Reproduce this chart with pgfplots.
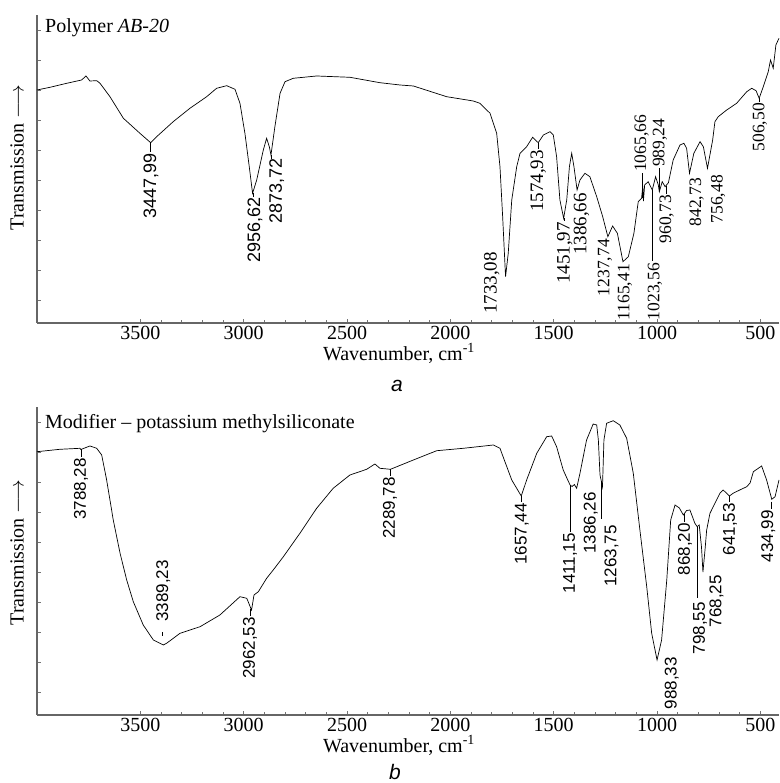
\documentclass[border=0pt]{standalone}
\usepackage{fontspec}
\setmainfont{Liberation Serif}
\newfontfamily\sansann{Liberation Sans}
\usepackage{pgfplots}
\usepackage{pgfplotstable}
\pgfplotsset{compat=1.18}

\pgfplotstableread{
w h
4000 233
3937 235.7
3856 239.7
3784 243
3763 247
3744 242
3711 242.3
3695 239.7
3647 226.3
3582 204.7
3502 189.7
3450 180.3
3421 186.3
3341 201.3
3260 214.7
3179 226.3
3131 234.7
3082 237.3
3042 233.7
3018 219.7
2994 189.7
2973 156.3
2957 129.7
2937 143
2905 173
2889 184.7
2876 176.3
2868 168
2849 196.3
2824 229.7
2800 241.3
2760 244.7
2647 247
2486 245.7
2341 240.3
2244 238
2179 237
2018 226.3
1889 222
1857 219.7
1808 209.7
1776 189.7
1760 156.3
1747 106.3
1733 46.3
1720 69.7
1703 123
1679 156.3
1663 169.7
1631 176.3
1602 185.7
1575 180.3
1550 188
1518 191.3
1502 188
1486 166.3
1470 123
1452 104.7
1437 123
1424 156.3
1413 169.7
1402 156.3
1387 133
1373 143
1349 149.7
1325 146.3
1292 126.3
1263 106.3
1238 86.3
1215 97
1192 89.7
1165 61.3
1139 66.3
1112 89.7
1091 121.3
1075 124.7
1069 137
1066 122
1060 138
1043 141.3
1023 133
1007 146.3
994 138
989 131.3
975 141.3
961 136.3
945 140.3
922 163
889 178
870 179.7
857 174.7
843 149.7
822 169.7
792 181.3
776 176.3
756 154.7
731 183
720 201.3
704 206.3
663 213
615 219.7
566 231.3
542 234.7
521 232.3
506 224.7
486 236.3
462 251.3
451 263
438 254.7
425 278
410 284.7
}\specA

\pgfplotstableread{
w h
4000 263.3
3889 265.7
3792 266.7
3788 265.5
3744 269
3711 266.7
3687 260
3663 235
3631 195
3598 161.7
3566 135
3534 113.3
3486 90
3437 75
3389 70
3373 71.7
3308 81.7
3211 88.3
3115 100
3018 118.3
2985 116.7
2962 105
2950 120
2929 123.3
2889 136.7
2857 145
2808 158.3
2728 181.7
2647 206.7
2567 226.7
2486 240
2405 245.7
2365 251
2341 246.7
2290 245.7
2179 255
2066 264.3
1937 266.7
1792 270
1760 266.7
1736 253.3
1703 235
1657 219
1631 235
1582 261.7
1534 278.3
1510 279
1486 268.3
1454 245
1421 230
1411 228.5
1400 230.5
1389 226.7
1373 241.7
1341 275
1309 291
1292 290
1284 275
1276 240
1264 228.3
1257 275
1244 291.7
1212 294.3
1180 290
1147 276.7
1115 241.7
1083 185
1050 128.3
1026 81.7
1000 55
978 75
953 135
934 195
913 210
892 207
873 200
857 204.5
841 205
817 191.7
806 188.3
796 190
785 168
778 143
768 165
760 185
744 201.7
712 215
696 221.7
680 225
650 219
632 221.7
600 225
566 228.3
550 232
534 243.3
494 249
470 235
445 215.7
429 218.3
410 235
}\specB

\newcommand{\fa}{\sansann\fontsize{18}{18}\selectfont}
\newcommand{\fb}{\sansann\fontsize{17}{17}\selectfont}
\newcommand{\fs}{\fontsize{19}{19}\selectfont}
\newcommand{\fss}{\fontsize{17.5}{17.5}\selectfont}

\tikzset{
  lbl/.style={rotate=90, anchor=east, inner sep=0pt},
  lblup/.style={rotate=90, anchor=west, inner sep=0pt},
  ld/.style={line width=0.5pt, black}
}

\pgfplotsset{
  irax/.style={
    scale only axis, width=742pt, height=308pt,
    anchor=south west,
    xmin=410, xmax=4000, x dir=reverse, ymin=0, ymax=308,
    axis x line*=bottom, axis y line*=left,
    xtick={500,1000,...,3500}, minor x tick num=4,
    ytick={23,53,...,293}, yticklabels={},
    tick align=inside, major tick length=4pt, minor tick length=3pt,
    axis line style={draw=black!60, line width=1.1pt},
    tick style={draw=black!55, line width=0.6pt},
    xticklabel style={font=\fontsize{20}{20}\selectfont, inner sep=0pt, yshift=-3pt},
    /pgf/number format/assume math mode=true,
    /pgf/number format/1000 sep={},
    clip=false,
  }
}

\begin{document}
\begin{tikzpicture}[x=1pt,y=1pt]
\useasboundingbox (0,0) rectangle (779,783);

% ---------- panel a ----------
\begin{axis}[irax, at={(37pt,460pt)}]
\addplot[black, line width=0.7pt] table[x=w,y=h] {\specA};
\draw[ld] (axis cs:3450,180) -- (axis cs:3450,171);
\node[lbl] at (axis cs:3448,170) {\fa 3447,99};
\draw[ld] (axis cs:2955,129.7) -- (axis cs:2955,126);
\node[lbl] at (axis cs:2945,125.5) {\fa 2956,62};
\draw[ld] (axis cs:2866,168) -- (axis cs:2866,164);
\node[lbl] at (axis cs:2840,164.5) {\fa 2873,72};
\node[lbl] at (axis cs:1800,71) {\fs 1733,08};
\draw[ld] (axis cs:1575,180) -- (axis cs:1575,173.5);
\node[lbl] at (axis cs:1575,173) {\fs 1574,93};
\draw[ld] (axis cs:1450,104.7) -- (axis cs:1450,101.5);
\node[lbl] at (axis cs:1446,101) {\fs 1451,97};
\node[lbl] at (axis cs:1365,130) {\fs 1386,66};
\node[lbl] at (axis cs:1252,84) {\fss 1237,74};
\node[lbl] at (axis cs:1155,59) {\fss 1165,41};
\draw[ld] (axis cs:1023,133) -- (axis cs:1023,62);
\node[lbl] at (axis cs:1010,60) {\fss 1023,56};
\draw[ld] (axis cs:1074,125) -- (axis cs:1074,150);
\node[lblup] at (axis cs:1074.5,151) {\fss 1065,66};
\draw[ld] (axis cs:987,132) -- (axis cs:987,155);
\node[lblup] at (axis cs:986,156) {\fss 989,24};
\draw[ld] (axis cs:957,136.5) -- (axis cs:957,129);
\node[lbl] at (axis cs:953.5,128) {\fss 960,73};
\node[lbl] at (axis cs:808,145) {\fss 842,73};
\node[lbl] at (axis cs:704,148) {\fss 756,48};
\draw[ld] (axis cs:504,224.7) -- (axis cs:504,220.5);
\node[lbl] at (axis cs:502,220) {\fss 506,50};
\end{axis}

% ---------- panel b ----------
\begin{axis}[irax, at={(37pt,68pt)}]
\addplot[black, line width=0.7pt] table[x=w,y=h] {\specB};
\draw[ld] (axis cs:3788,265.5) -- (axis cs:3788,257.5);
\node[lbl] at (axis cs:3787,257) {\fb 3788,28};
\draw[ld] (axis cs:3392,79) -- (axis cs:3392,83);
\node[lblup] at (axis cs:3389,93) {\fb 3389,23};
\draw[ld] (axis cs:2966,106) -- (axis cs:2966,98.5);
\node[lbl] at (axis cs:2969,98) {\fb 2962,53};
\draw[ld] (axis cs:2290,245.7) -- (axis cs:2290,238.5);
\node[lbl] at (axis cs:2292,238) {\fb 2289,78};
\draw[ld] (axis cs:1656,219) -- (axis cs:1656,212.5);
\node[lbl] at (axis cs:1655,212) {\fb 1657,44};
\draw[ld] (axis cs:1421,230) -- (axis cs:1421,182.5);
\node[lbl] at (axis cs:1421,182) {\fb 1411,15};
\node[lbl] at (axis cs:1321,223) {\fb 1386,26};
\draw[ld] (axis cs:1272,234) -- (axis cs:1272,196);
\node[lbl] at (axis cs:1220,190) {\fb 1263,75};
\node[lbl] at (axis cs:929,58) {\fb 988,33};
\draw[ld] (axis cs:870,201) -- (axis cs:870,192.5);
\node[lbl] at (axis cs:865,192) {\fb 868,20};
\draw[ld] (axis cs:806,188) -- (axis cs:806,117);
\node[lbl] at (axis cs:792,113) {\fb 798,55};
\node[lbl] at (axis cs:712,140) {\fb 768,25};
\draw[ld] (axis cs:650,219) -- (axis cs:650,212.5);
\node[lbl] at (axis cs:647,212) {\fb 641,53};
\draw[ld] (axis cs:449,213.3) -- (axis cs:449,206);
\node[lbl] at (axis cs:462,205) {\fb 434,99};
\end{axis}

% ---------- texts ----------
\node[anchor=base west, inner sep=0pt] at (45,750) {\fontsize{20}{20}\selectfont Polymer \textit{AB-20}};
\node[anchor=base west, inner sep=0pt] at (45,354.7) {\fontsize{20}{20}\selectfont Modifier -- potassium methylsiliconate};
\node[anchor=base, inner sep=0pt] at (399,422.5) {\fontsize{20}{20}\selectfont Wavenumber, cm\textsuperscript{-1}};
\node[anchor=base, inner sep=0pt] at (399,30.5) {\fontsize{20}{20}\selectfont Wavenumber, cm\textsuperscript{-1}};
\node[rotate=90, inner sep=0pt] at (17,625.5) {\fontsize{20}{20}\selectfont Transmission $\longrightarrow$};
\node[rotate=90, inner sep=0pt] at (17,230.5) {\fontsize{20}{20}\selectfont Transmission $\longrightarrow$};
\node[anchor=base, inner sep=0pt] at (397,391) {\sansann\itshape\fontsize{21}{21}\selectfont a};
\node[anchor=base, inner sep=0pt] at (395,3) {\sansann\itshape\fontsize{21}{21}\selectfont b};
\end{tikzpicture}
\end{document}
